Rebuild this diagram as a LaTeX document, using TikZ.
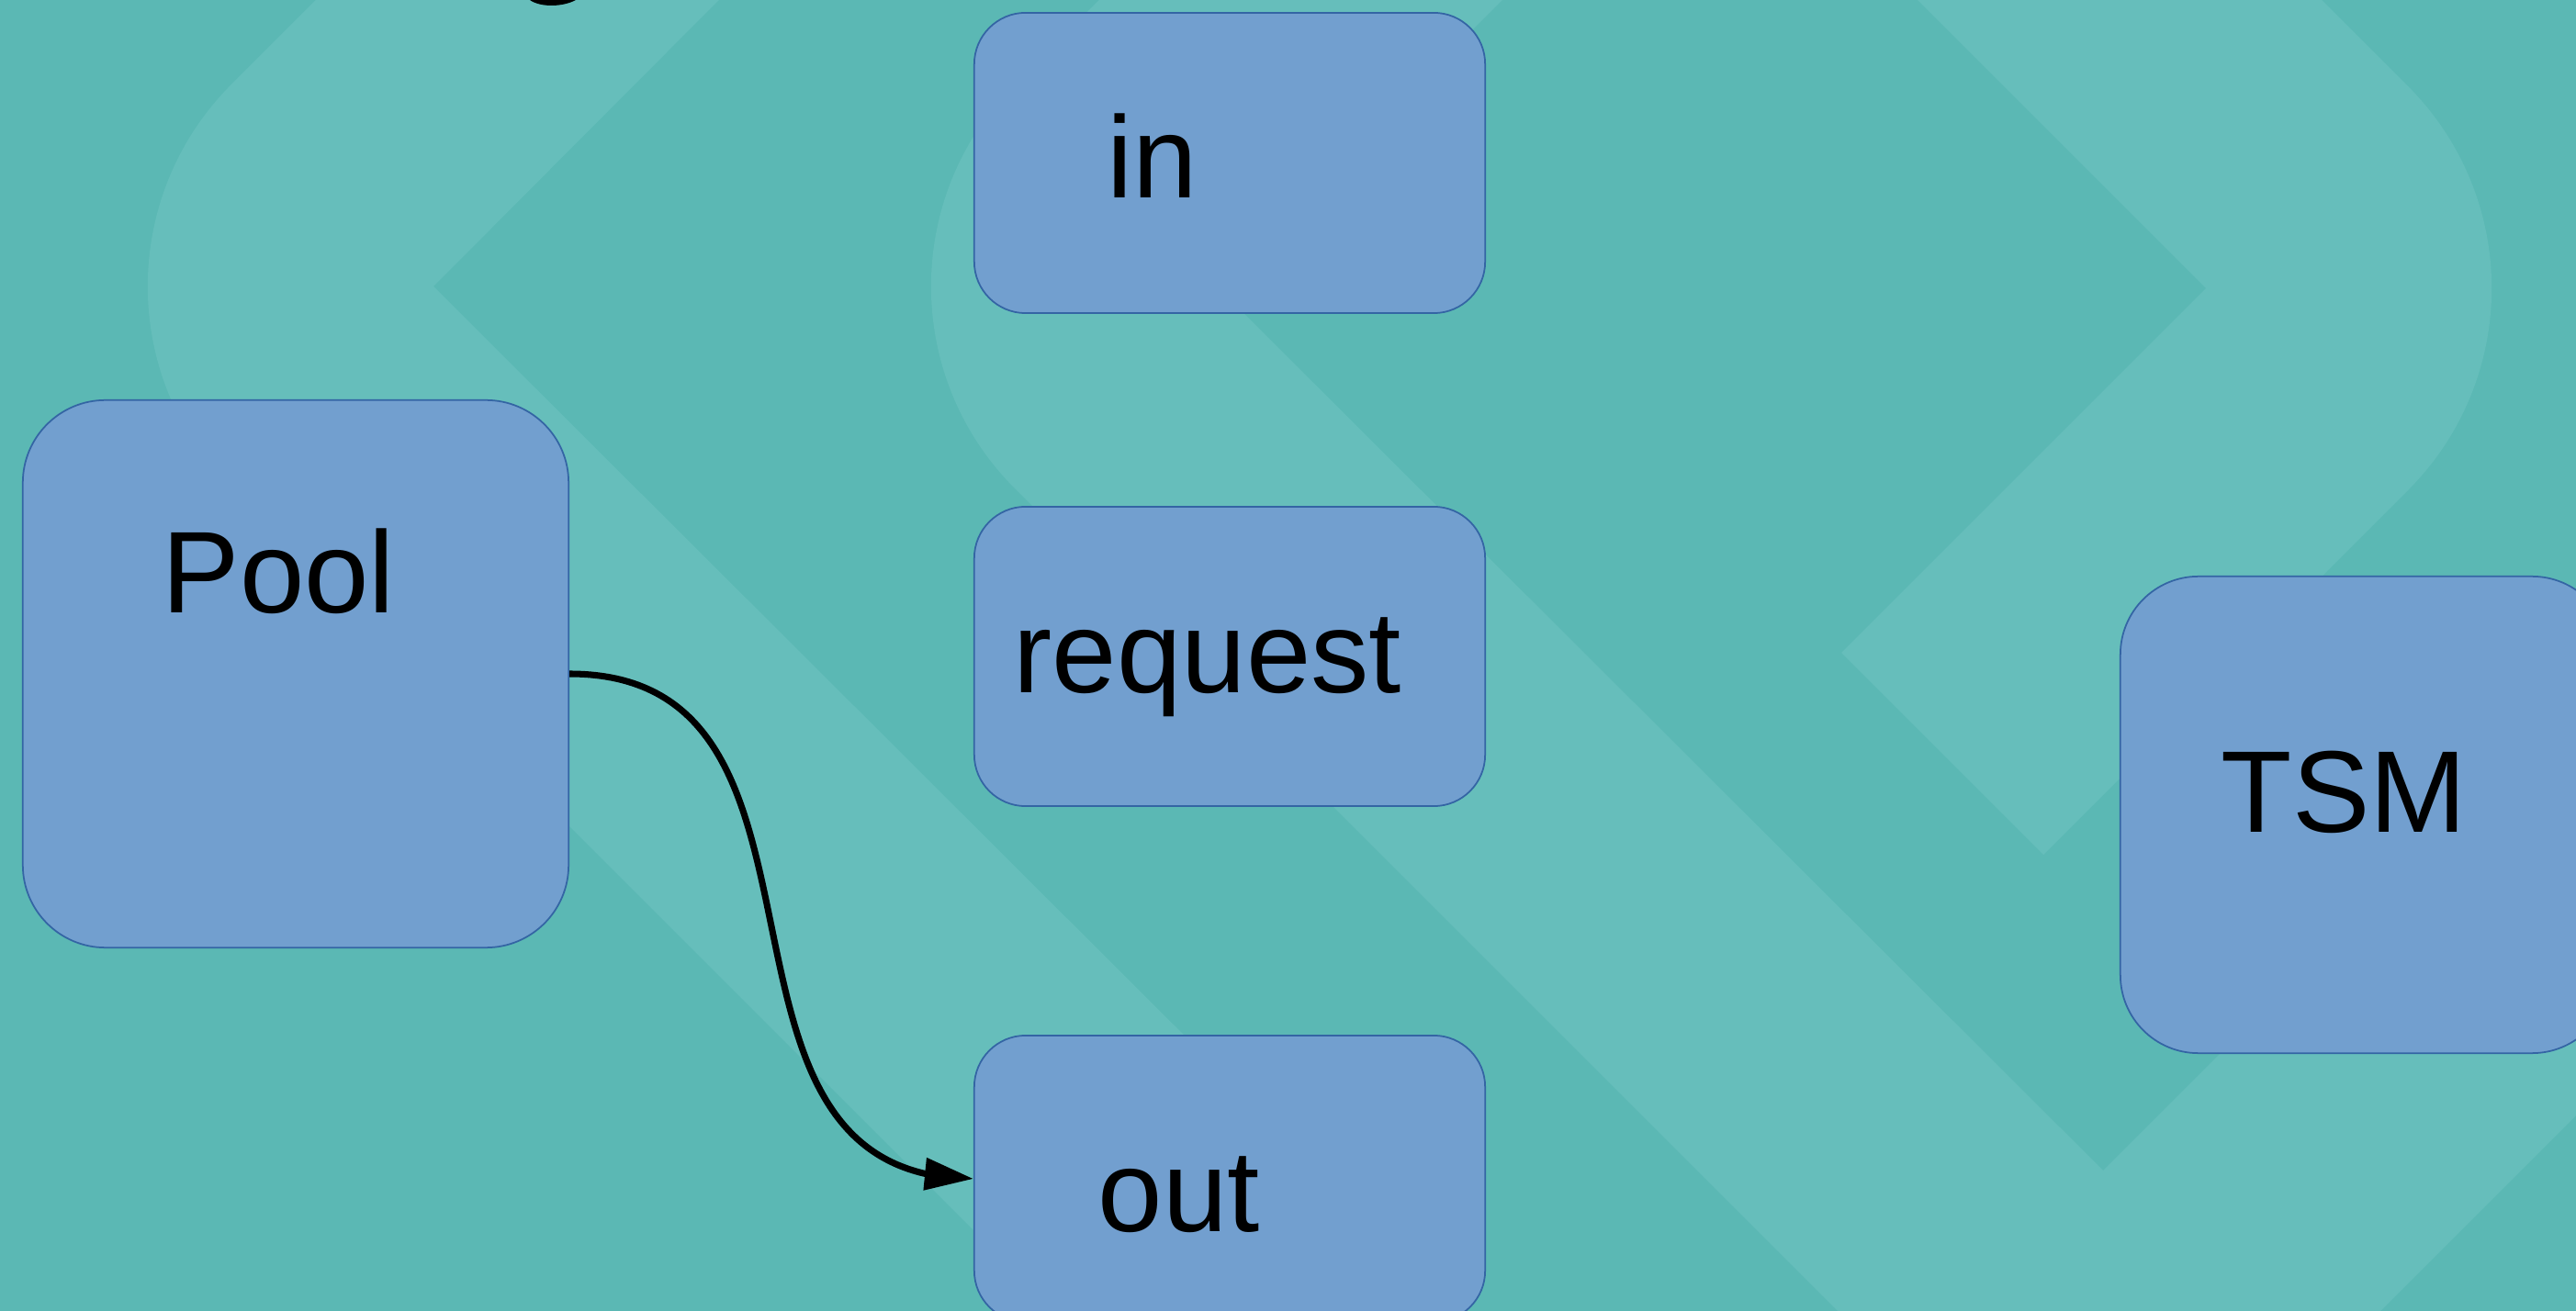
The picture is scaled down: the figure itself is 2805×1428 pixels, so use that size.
\documentclass[tikz,border=0pt]{standalone}
\usepackage{fontspec}
\setmainfont{Liberation Sans}
\usetikzlibrary{arrows.meta,bending}
\definecolor{bgdark}{HTML}{5BB8B4}
\definecolor{bglight}{HTML}{66BEBB}
\definecolor{boxfill}{HTML}{729FCF}
\definecolor{boxline}{HTML}{3465A4}

\begin{document}
\begin{tikzpicture}[
  x=0.01cm,
  y=-0.01cm,
  box/.style={draw=boxline, fill=boxfill, line width=0.5pt, inner sep=0pt, rounded corners=0.56cm},
  lbl/.style={anchor=base west, inner sep=0pt, font=\fontsize{36}{43}\selectfont},
  conn/.style={-{Triangle[length=0.53cm, width=0.34cm, flex]}, line width=2pt}
]
\useasboundingbox (0,0) rectangle (2805,1428);
\clip (0,0) rectangle (2805,1428);
\fill[bgdark] (0,0) rectangle (2805,1428);

% background links
\fill[bglight] (544,-200) -- (982,-200) -- (472,312) -- (1863,1700) -- (1420,1700)
  -- (252,532) arc[start angle=225, end angle=135, radius=3.11cm] -- cycle;
\begin{scope}[shift={(853,0)}]
\fill[bglight] (544,-200) -- (982,-200) -- (472,312) -- (1863,1700) -- (1420,1700)
  -- (252,532) arc[start angle=225, end angle=135, radius=3.11cm] -- cycle;
\end{scope}
\fill[bglight] (1888,-200) -- (2402,314) -- (2005,711) -- (2225,931)
  -- (2622,534) arc[start angle=-45, end angle=45, radius=3.11cm] -- (2328,-200) -- cycle;
\fill[bglight] (3065,500) -- (3520,500) -- (2320,1700) -- (1865,1700) -- cycle;

% cut-off glyph at the top
\fill[black] (577,0) .. controls (588,8) and (612,8) .. (627,0) -- cycle;

% boxes
\node[box, minimum width=5.94cm, minimum height=5.96cm, rounded corners=0.9cm] (pool) at (322,734) {};
\node[box, minimum width=5.56cm, minimum height=3.27cm] (in) at (1339,177.5) {};
\node[box, minimum width=5.56cm, minimum height=3.26cm] (request) at (1339,715) {};
\node[box, minimum width=5.56cm, minimum height=3.12cm] (out) at (1339,1284) {};
\node[box, minimum width=5.33cm, minimum height=5.19cm, rounded corners=0.85cm] (tsm) at (2575.5,887.5) {};

% labels
\node[lbl] (pool-lbl) at (176,668) {Pool};
\node[lbl] (in-lbl) at (1205,216) {in};
\node[lbl] (request-lbl) at (1103,755) {request};
\node[lbl] (out-lbl) at (1195,1341) {out};
\node[lbl] (tsm-lbl) at (2418,907) {TSM};

% connector
\draw[conn] (pool.east) .. controls +(327,0) and +(-327,0) .. (out.west);
\end{tikzpicture}
\end{document}
